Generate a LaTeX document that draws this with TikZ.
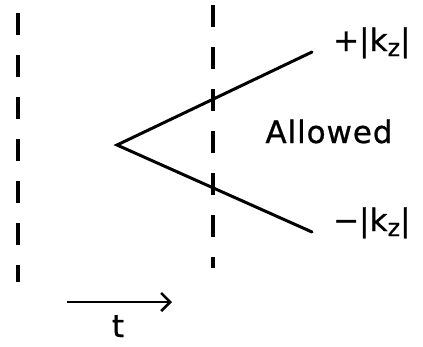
\documentclass[tikz,border=0pt]{standalone}
\usepackage{fontspec}
\setmainfont[FakeBold=0.8]{DejaVu Sans}
\usetikzlibrary{arrows.meta}
\begin{document}
\begin{tikzpicture}[x=1pt,y=-1pt,
  dline/.style={line width=3.5pt, dash pattern=on 22pt off 20pt},
  bline/.style={line width=3pt, line cap=round},
  lbl/.style={font=\fontsize{31}{33}\selectfont, inner sep=0pt}]
\useasboundingbox (0,0) rectangle (423,346);
\coordinate (l1) at (18,13);
\coordinate (l2) at (18,282);
\coordinate (m1) at (213,5);
\coordinate (m2) at (213,268);
\draw[dline] (l1) -- (l2);
\draw[dline] (m1) -- (m2);
\coordinate (v) at (117,145);
\coordinate (up) at (312,52);
\coordinate (lo) at (312,232);
\draw[bline] (up) -- (v) -- (lo);
\node[lbl, anchor=base west] (kp) at (333,51) {+|k\raisebox{-0.3ex}{\fontsize{24}{24}\selectfont z}|};
\node[lbl, anchor=base west] (km) at (333,231) {−|k\raisebox{-0.3ex}{\fontsize{24}{24}\selectfont z}|};
\node[lbl, anchor=base] (al) at (329,143) {\addfontfeatures{LetterSpace=3}Allowed};
\coordinate (a1) at (67,302);
\coordinate (a2) at (172,302);
\draw[line width=2.6pt, -{Straight Barb[length=9pt,width=18pt,line width=2.6pt]}] (a1) -- (a2);
\node[lbl, anchor=base] (t) at (118,337) {t};
\end{tikzpicture}
\end{document}
